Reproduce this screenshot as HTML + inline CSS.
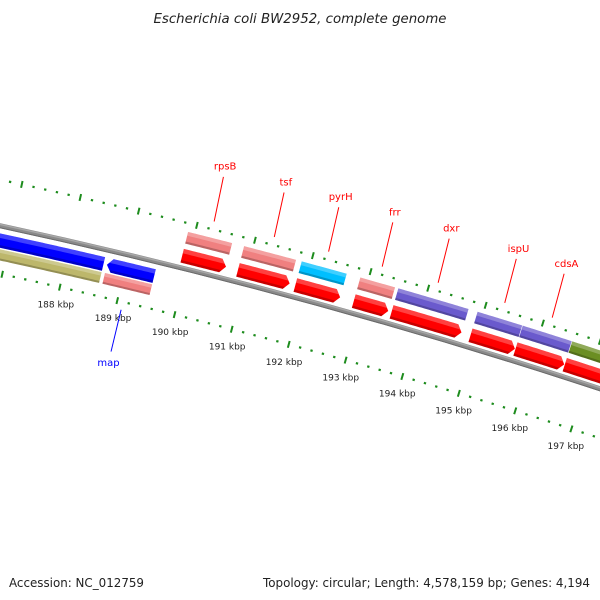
<!DOCTYPE html>
<html>
<head>
<meta charset="utf-8">
<style>
  html, body { margin: 0; padding: 0; background: #fff; }
  svg { display: block; font-family: "DejaVu Sans", "Liberation Sans", sans-serif; }
</style>
</head>
<body>
<svg id="chart" width="600" height="600" viewBox="0 0 600 600">
  <rect x="0" y="0" width="600" height="600" fill="#ffffff"></rect>
  <text x="300" y="23" text-anchor="middle" font-size="13" font-style="italic" fill="#222" textLength="293" lengthAdjust="spacingAndGlyphs">Escherichia coli BW2952, complete genome</text>
  <g id="ruler-outer"></g>
  <g id="ruler-inner"></g>
  <g id="backbone"></g>
  <g id="features"></g>
  <g id="labels"></g>
  <text x="9" y="587" font-size="12" fill="#222" textLength="135" lengthAdjust="spacingAndGlyphs">Accession: NC_012759</text>
  <text x="263" y="587" font-size="12" fill="#222" textLength="327" lengthAdjust="spacingAndGlyphs">Topology: circular; Length: 4,578,159 bp; Genes: 4,194</text>
</svg>
<script>
// ---- data ----
const geneNames   = ['upstream', 'map', 'rpsB', 'tsf', 'pyrH', 'frr', 'dxr', 'ispU', 'cdsA', 'downstream'];
const geneStarts  = [184.55, 188.69, 189.884, 190.850, 191.846, 192.862, 193.522, 194.903, 195.692, 196.560];
const geneEnds    = [188.631, 189.509, 190.643, 191.747, 192.625, 193.464, 194.745, 195.682, 196.550, 198.355];
const geneStrands = [-1, -1, 1, 1, 1, 1, 1, 1, 1, 1];
const geneKinds   = ['khaki', 'pink', 'pink', 'pink', 'cyan', 'pink', 'slate', 'slate', 'slate', 'olive'];
const geneLabeled = [false, true, true, true, true, true, true, true, true, false];
const tickStartKbp = 184;
const tickEndKbp = 200;

// ---- geometry (circle axis) ----
const SVGNS = 'http://www.w3.org/2000/svg';
const CX = -1244, CY = 5989, R = 5896;
const DEG_PER_KBP = 0.578, ANG0 = -77.12, K0 = 188;
function ang(k) { return (ANG0 + (k - K0) * DEG_PER_KBP) * Math.PI / 180; }
function pt(k, r) { const a = ang(k); return [CX + r * Math.cos(a), CY + r * Math.sin(a)]; }
const kindColor = { khaki: '#bdb76b', pink: '#f08080', cyan: '#00bfff', slate: '#6a5acd', olive: '#6b8e23' };

function bandPoints(s, e, r1, r2, arrow) {
  const ah = 0.09, rm = (r1 + r2) / 2;
  let a = s, b = e;
  if (arrow === 1) b = e - ah;
  if (arrow === -1) a = s + ah;
  const n = Math.max(2, Math.ceil((b - a) / 0.04));
  const pts = [];
  for (let i = 0; i <= n; i++) pts.push(pt(a + (b - a) * i / n, r2));
  if (arrow === 1) pts.push(pt(e, rm));
  for (let i = n; i >= 0; i--) pts.push(pt(a + (b - a) * i / n, r1));
  if (arrow === -1) pts.push(pt(s, rm));
  return 'M' + pts.map(p => p[0].toFixed(2) + ',' + p[1].toFixed(2)).join('L') + 'Z';
}

const svg = document.getElementById('chart');
const defs = document.createElementNS(SVGNS, 'defs');
svg.insertBefore(defs, svg.firstChild);

// ---- rulers ----
function drawRuler(groupId, r, withLabels) {
  const g = document.getElementById(groupId);
  for (let i = 0; i <= (tickEndKbp - tickStartKbp) * 5; i++) {
    const k = tickStartKbp + i * 0.2;
    const major = (i % 5 === 0);
    const half = major ? 3.5 : 1.1;
    const p1 = pt(k, r - half), p2 = pt(k, r + half);
    const ln = document.createElementNS(SVGNS, 'line');
    ln.setAttribute('x1', p1[0]); ln.setAttribute('y1', p1[1]);
    ln.setAttribute('x2', p2[0]); ln.setAttribute('y2', p2[1]);
    ln.setAttribute('stroke', '#1d8c1d');
    ln.setAttribute('stroke-width', major ? '2' : '2.3');
    
    
    g.appendChild(ln);
    if (major && withLabels) {
      const kk = Math.round(k);
      const lp = pt(kk, R - 65);
      if (lp[0] < 25 || lp[0] > 580) continue;
      const t = document.createElementNS(SVGNS, 'text');
      t.setAttribute('x', lp[0]); t.setAttribute('y', lp[1] + 3);
      t.setAttribute('text-anchor', 'middle');
      t.setAttribute('font-size', '9');
      t.setAttribute('fill', '#222');
      t.textContent = kk + ' kbp';
      
      
      g.appendChild(t);
    }
  }
}
drawRuler('ruler-outer', R + 45, false);
drawRuler('ruler-inner', R - 47, true);

// ---- backbone ----
(function () {
  const g = document.getElementById('backbone');
  const specs = [[R, 5, '#8a8a8a'], [R + 1.3, 1.5, '#a8a8a8'], [R - 2, 1, '#6a6a6a']];
  specs.forEach(sp => {
    const p1 = pt(tickStartKbp, sp[0]), p2 = pt(tickEndKbp, sp[0]);
    const path = document.createElementNS(SVGNS, 'path');
    path.setAttribute('d', `M${p1[0]},${p1[1]} A${sp[0]},${sp[0]} 0 0 1 ${p2[0]},${p2[1]}`);
    path.setAttribute('fill', 'none');
    path.setAttribute('stroke', sp[2]);
    path.setAttribute('stroke-width', sp[1]);
    
    
    g.appendChild(path);
  });
})();

// ---- features ----
let clipId = 0;
function drawShaded(g, s, e, r1, r2, arrow, color, name) {
  const d = bandPoints(s, e, r1, r2, arrow);
  const cp = document.createElementNS(SVGNS, 'clipPath');
  const id = 'clip' + (clipId++);
  cp.setAttribute('id', id);
  const cpp = document.createElementNS(SVGNS, 'path');
  cpp.setAttribute('d', d);
  cp.appendChild(cpp);
  defs.appendChild(cp);
  const grp = document.createElementNS(SVGNS, 'g');
  
  
  const main = document.createElementNS(SVGNS, 'path');
  main.setAttribute('d', d);
  main.setAttribute('fill', color);
  
  
  grp.appendChild(main);
  const sub = document.createElementNS(SVGNS, 'g');
  sub.setAttribute('clip-path', `url(#${id})`);
  const t = r2 - r1;
  const hi = document.createElementNS(SVGNS, 'path');
  hi.setAttribute('d', bandPoints(s - 0.2, e + 0.2, r2 - 0.32 * t, r2 + 1, 0));
  hi.setAttribute('fill', '#ffffff');
  hi.setAttribute('fill-opacity', '0.25');
  
  
  sub.appendChild(hi);
  const sh = document.createElementNS(SVGNS, 'path');
  sh.setAttribute('d', bandPoints(s - 0.2, e + 0.2, r1 - 1, r1 + 0.18 * t, 0));
  sh.setAttribute('fill', '#000000');
  sh.setAttribute('fill-opacity', '0.22');
  
  
  sub.appendChild(sh);
  grp.appendChild(sub);
  g.appendChild(grp);
}

const fg = document.getElementById('features');
const lg = document.getElementById('labels');
for (let i = 0; i < geneNames.length; i++) {
  const s = geneStarts[i], e = geneEnds[i], st = geneStrands[i];
  const gr = st > 0 ? [R + 24.5, R + 36.5] : [R - 34, R - 23];
  const cr = st > 0 ? [R + 5, R + 19] : [R - 21.5, R - 7.5];
  drawShaded(fg, s, e, gr[0], gr[1], 0, kindColor[geneKinds[i]], 'gene-' + geneNames[i]);
  drawShaded(fg, s, e, cr[0], cr[1], st, st > 0 ? '#ff0000' : '#0000ff', 'cds-' + geneNames[i]);
  if (geneLabeled[i]) {
    const mid = (s + e) / 2;
    const col = st > 0 ? '#ff0000' : '#0000ff';
    const a = st > 0 ? pt(mid, R + 53) : pt(mid, R - 55);
    const b = st > 0 ? pt(mid, R + 99) : pt(mid, R - 98);
    const tp = st > 0 ? pt(mid, R + 110) : pt(mid, R - 109);
    const ln = document.createElementNS(SVGNS, 'line');
    ln.setAttribute('x1', a[0]); ln.setAttribute('y1', a[1]);
    ln.setAttribute('x2', b[0] - (st > 0 ? 2 : 0)); ln.setAttribute('y2', b[1]);
    ln.setAttribute('stroke', col);
    ln.setAttribute('stroke-width', '1');
    
    
    lg.appendChild(ln);
    const tx = document.createElementNS(SVGNS, 'text');
    tx.setAttribute('x', tp[0] - (st > 0 ? 3 : 0));
    tx.setAttribute('y', tp[1] + 3.5);
    tx.setAttribute('text-anchor', 'middle');
    tx.setAttribute('font-size', '10');
    tx.setAttribute('fill', col);
    tx.textContent = geneNames[i];
    
    
    lg.appendChild(tx);
  }
}
</script>
</body>
</html>
